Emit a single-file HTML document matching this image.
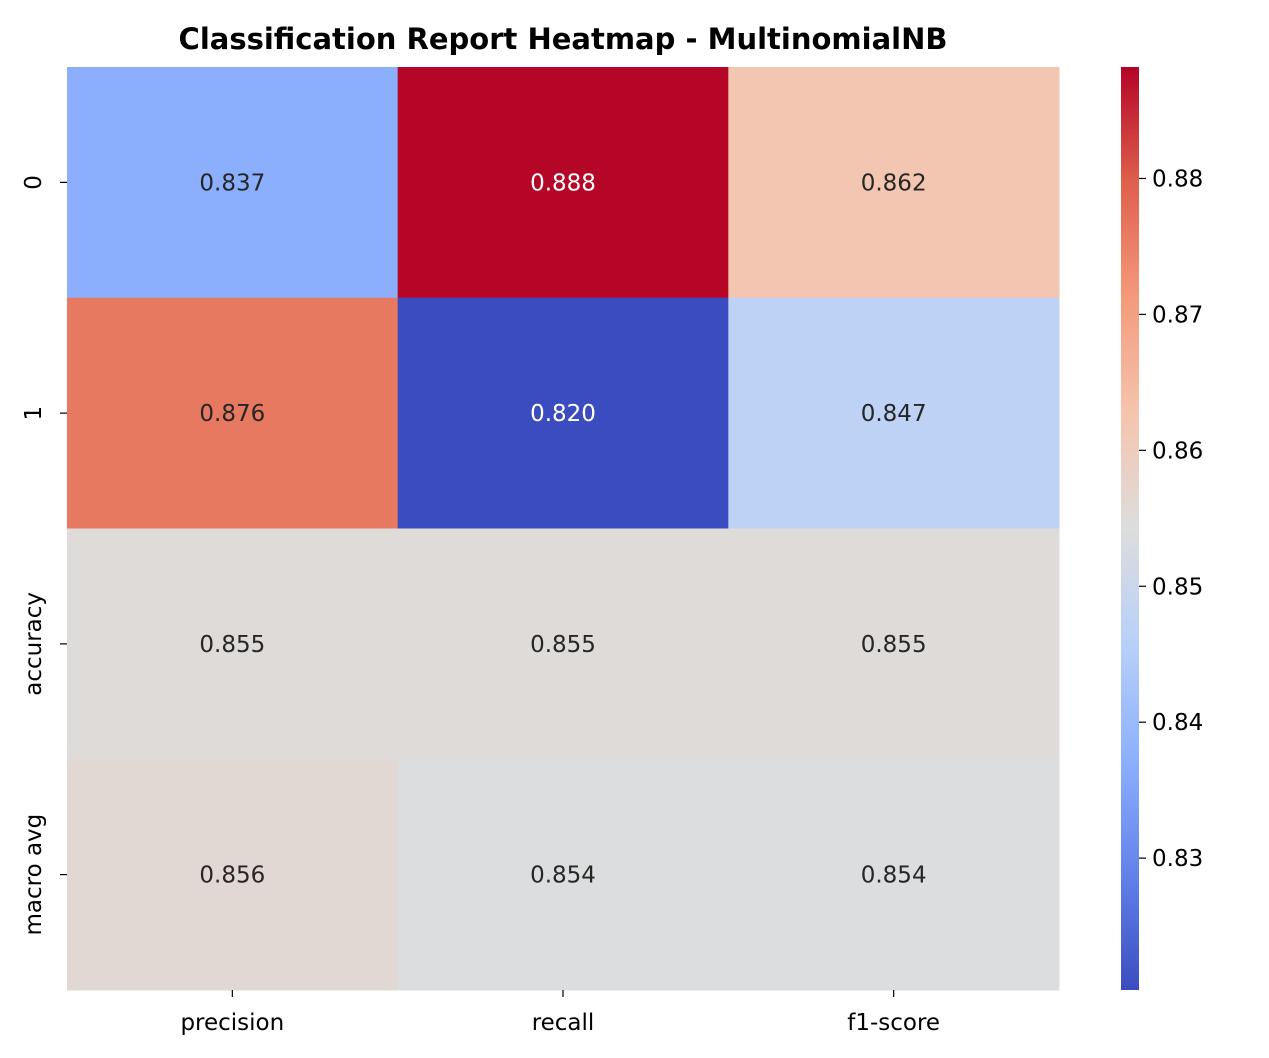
<!DOCTYPE html>
<html><head><meta charset="utf-8"><style>
body{margin:0;background:#fff;}
svg{display:block;font-family:"DejaVu Sans","Liberation Sans",sans-serif;}
</style></head><body>
<svg id="chart" width="1269" height="1058" xmlns="http://www.w3.org/2000/svg">
<defs><linearGradient id="cw" x1="0" y1="1" x2="0" y2="0"></linearGradient></defs>
<text x="563" y="49" text-anchor="middle" font-size="29" font-weight="bold" fill="#000">Classification Report Heatmap - MultinomialNB</text>
<g id="cells"></g>
<g id="xt"></g>
<g id="yt"></g>
<g id="cb"></g>
</svg>
<script>
const rowLabels=["0","1","accuracy","macro avg"];
const colLabels=["precision","recall","f1-score"];
const row0=[0.837,0.888,0.862];
const row1=[0.876,0.820,0.847];
const row2=[0.855,0.855,0.855];
const row3=[0.856,0.854,0.854];
const cbTicks=[0.83,0.84,0.85,0.86,0.87,0.88];
const vmin=0.8203, vmax=0.8882;
const rows=[row0,row1,row2,row3];
const NS="http://www.w3.org/2000/svg";
const L=67,R=1059,T=67,B=990;
const cw=(R-L)/colLabels.length, ch=(B-T)/rowLabels.length;
const stops=[[0,[59,76,192]],[0.125,[98,130,234]],[0.25,[141,176,254]],[0.375,[184,208,249]],[0.5,[221,221,221]],[0.625,[245,196,173]],[0.75,[244,154,123]],[0.875,[222,96,77]],[1,[180,4,38]]];
function cmap(t){t=Math.max(0,Math.min(1,t));for(let i=1;i<stops.length;i++){if(t<=stops[i][0]){const a=stops[i-1],b=stops[i];const f=(t-a[0])/(b[0]-a[0]);return a[1].map((v,k)=>Math.round(v+(b[1][k]-v)*f));}}return stops[stops.length-1][1];}
function mk(tag,attrs,parent){const e=document.createElementNS(NS,tag);for(const k in attrs)e.setAttribute(k,attrs[k]);parent.appendChild(e);return e;}
const cells=document.getElementById('cells');
rows.forEach((r,i)=>r.forEach((v,j)=>{
  const c=cmap((v-vmin)/(vmax-vmin));
  const rect=mk('rect',{x:L+j*cw,y:T+i*ch,width:cw+0.5,height:ch+0.5,fill:`rgb(${c})`},cells);
  
  
  const lum=(0.2126*c[0]+0.7152*c[1]+0.0722*c[2])/255;
  const t=mk('text',{x:L+(j+0.5)*cw,y:T+(i+0.5)*ch+8,'text-anchor':'middle','font-size':'23',fill:lum>0.45?'#262626':'#ffffff'},cells);
  t.textContent=v.toFixed(3);
  
  
}));
const xt=document.getElementById('xt');
colLabels.forEach((l,j)=>{const x=L+(j+0.5)*cw;
  const ln=mk('line',{x1:x,x2:x,y1:B,y2:B+7,stroke:'#000','stroke-width':1.2},xt);
  
  
  const t=mk('text',{x:x,y:B+40,'text-anchor':'middle','font-size':'23',fill:'#000'},xt);t.textContent=l;
  
  });
const yt=document.getElementById('yt');
rowLabels.forEach((l,i)=>{const y=T+(i+0.5)*ch;
  const ln=mk('line',{x1:L-7,x2:L,y1:y,y2:y,stroke:'#000','stroke-width':1.2},yt);
  
  
  const t=mk('text',{x:0,y:0,'text-anchor':'middle','font-size':'23',fill:'#000',transform:`translate(${L-26},${y}) rotate(-90)`},yt);t.textContent=l;
  
  });
const g=document.getElementById('cw');
stops.forEach(s=>{mk('stop',{offset:s[0],'stop-color':`rgb(${s[1]})`},g);});
const cb=document.getElementById('cb');
const CX=1121,CW=18;
const bar=mk('rect',{x:CX,y:T,width:CW,height:B-T,fill:'url(#cw)'},cb);


cbTicks.forEach(v=>{const y=B-(v-vmin)/(vmax-vmin)*(B-T);
  const ln=mk('line',{x1:CX+CW,x2:CX+CW+7,y1:y,y2:y,stroke:'#000','stroke-width':1.2},cb);
  
  
  const t=mk('text',{x:CX+CW+13,y:y+8,'font-size':'23',fill:'#000'},cb);t.textContent=v.toFixed(2);
  
  });
</script>
</body></html>
